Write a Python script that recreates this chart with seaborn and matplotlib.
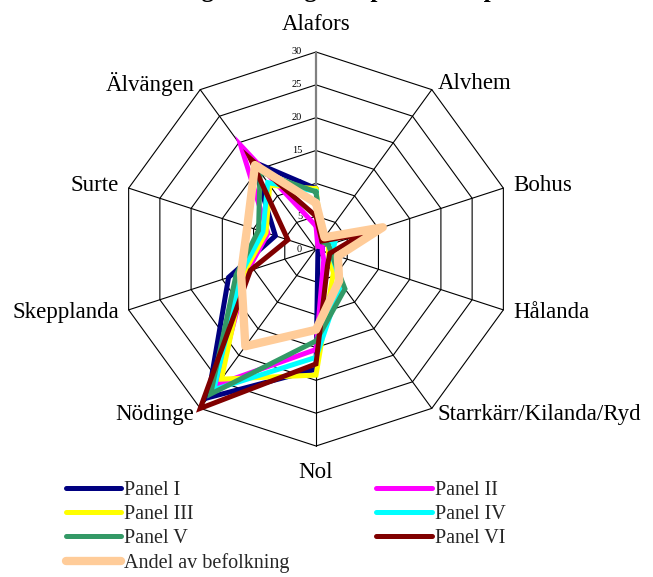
import numpy as np
import pandas as pd
import matplotlib
matplotlib.use("Agg")
import matplotlib.pyplot as plt
import seaborn as sns
from matplotlib.lines import Line2D

# ---------------- data ----------------
title_text = "Fördelning av deltagare i panelerna per ort"
categories = ["Alafors", "Alvhem", "Bohus", "Hålanda", "Starrkärr/Kilanda/Ryd",
              "Nol", "Nödinge", "Skepplanda", "Surte", "Älvängen"]
series_names = ["Panel I", "Panel II", "Panel III", "Panel IV", "Panel V",
                "Panel VI", "Andel av befolkning"]
panel_1 = [9.2, 1.0, 1.0, 1.0, 0.5, 18.3, 28.0, 14.0, 6.5, 16.5]
panel_2 = [3.5, 0.5, 1.0, 1.0, 2.0, 15.3, 25.5, 11.0, 7.7, 19.5]
panel_3 = [9.2, 1.5, 2.0, 2.0, 4.5, 19.2, 24.5, 11.5, 8.0, 12.0]
panel_4 = [8.8, 1.5, 3.0, 2.5, 6.5, 16.5, 26.5, 12.0, 8.5, 12.5]
panel_5 = [8.7, 1.5, 2.0, 2.5, 7.5, 14.0, 27.3, 12.8, 9.2, 14.5]
panel_6 = [5.0, 1.5, 7.5, 2.2, 3.0, 17.5, 30.0, 10.5, 4.5, 17.0]
andel_befolkning = [7.0, 2.2, 10.7, 3.5, 6.0, 12.3, 18.3, 12.0, 11.0, 15.8]
ring_values = [5, 10, 15, 20, 25, 30]
tick_values = [0, 5, 10, 15, 20, 25, 30]
tick_labels = ["0", "5", "10", "15", "20", "25", "30"]

all_series = [panel_1, panel_2, panel_3, panel_4, panel_5, panel_6, andel_befolkning]

# ---------------- style ----------------
colors = ["#000080", "#FF00FF", "#FFFF00", "#00FFFF", "#339966", "#800000", "#FFCC99"]
widths = [3.6, 3.6, 3.6, 3.6, 3.6, 3.6, 6.0]
joins = ['miter', 'miter', 'miter', 'miter', 'miter', 'miter', 'round']

sns.set_theme(style="white")
plt.rcParams['font.family'] = ['Liberation Serif', 'DejaVu Serif']

W, H = 653, 577
fig = plt.figure(figsize=(W / 100, H / 100), dpi=100)
cx, cy, R = 316, 249, 197
ax = fig.add_axes([(cx - R) / W, 1 - (cy + R) / H, 2 * R / W, 2 * R / H], projection='polar')
ax.set_theta_offset(np.pi / 2)
ax.set_theta_direction(-1)
ax.grid(False)
ax.set_xticks([])
ax.set_yticks([])
ax.spines['polar'].set_visible(False)
ax.patch.set_alpha(0)

n = len(categories)
theta = np.linspace(0, 2 * np.pi, n, endpoint=False)
theta_closed = np.append(theta, 2 * np.pi)

# grid rings (decagons)
for r in ring_values:
    ax.plot(theta_closed, [r] * (n + 1), color='black', lw=0.8, clip_on=False,
            solid_joinstyle='miter', zorder=1)
# spokes
for i, t in enumerate(theta):
    if i == 0:
        ax.plot([t, t], [0, ring_values[-1]], color='#808080', lw=1.6, clip_on=False, zorder=1.5)
    else:
        ax.plot([t, t], [0, ring_values[-1]], color='black', lw=0.8, clip_on=False, zorder=1)

# value tick labels
for v, lab in zip(tick_values, tick_labels):
    ax.annotate(lab, xy=(0, v), xytext=(-10, 0), textcoords='offset points',
                ha='right', va='center', fontsize=7.5, color='black', zorder=1.8)

# category labels
px2pt = 72 / 100
for t, cat in zip(theta, categories):
    ux, uy = np.sin(t), np.cos(t)
    if abs(ux) < 0.1:
        off = (0, uy * 27 * px2pt)
        ha = 'center'
    else:
        off = (ux * 10 * px2pt, uy * 7 * px2pt)
        ha = 'left' if ux > 0 else 'right'
    ax.annotate(cat, xy=(t, ring_values[-1]), xytext=off,
                textcoords='offset points', ha=ha, va='center', fontsize=16.5,
                color='black', annotation_clip=False)

# series
for name, vals, c, w, j in zip(series_names, all_series, colors, widths, joins):
    df = pd.DataFrame({"theta": theta_closed, "value": list(vals) + [vals[0]]})
    sns.lineplot(data=df, x="theta", y="value", ax=ax, sort=False, estimator=None,
                 color=c, lw=w, legend=False, solid_joinstyle=j,
                 clip_on=False, zorder=3)

ax.set_ylim(0, ring_values[-1])
ax.set_xlabel("")
ax.set_ylabel("")

# legend (row-wise order like the reference)
handles = [Line2D([], [], color=c, lw=w, solid_capstyle='round') for c, w in zip(colors, widths)]
order = [0, 2, 4, 6, 1, 3, 5]
fig.legend([handles[i] for i in order], [series_names[i] for i in order],
           ncol=2, loc='upper left', bbox_to_anchor=(66 / W, 1 - 481 / H),
           frameon=False, fontsize=14.5, handlelength=2.74, handletextpad=0.16,
           columnspacing=4.3, labelspacing=0.24, borderpad=0, borderaxespad=0)

# title (mostly above the visible area, as in the reference)
fig.text(0.5, 1 + 3.0 / H, title_text, ha='center', va='baseline',
         fontsize=18, fontweight='bold', color='black')

fig.savefig("out.png", dpi=100)
